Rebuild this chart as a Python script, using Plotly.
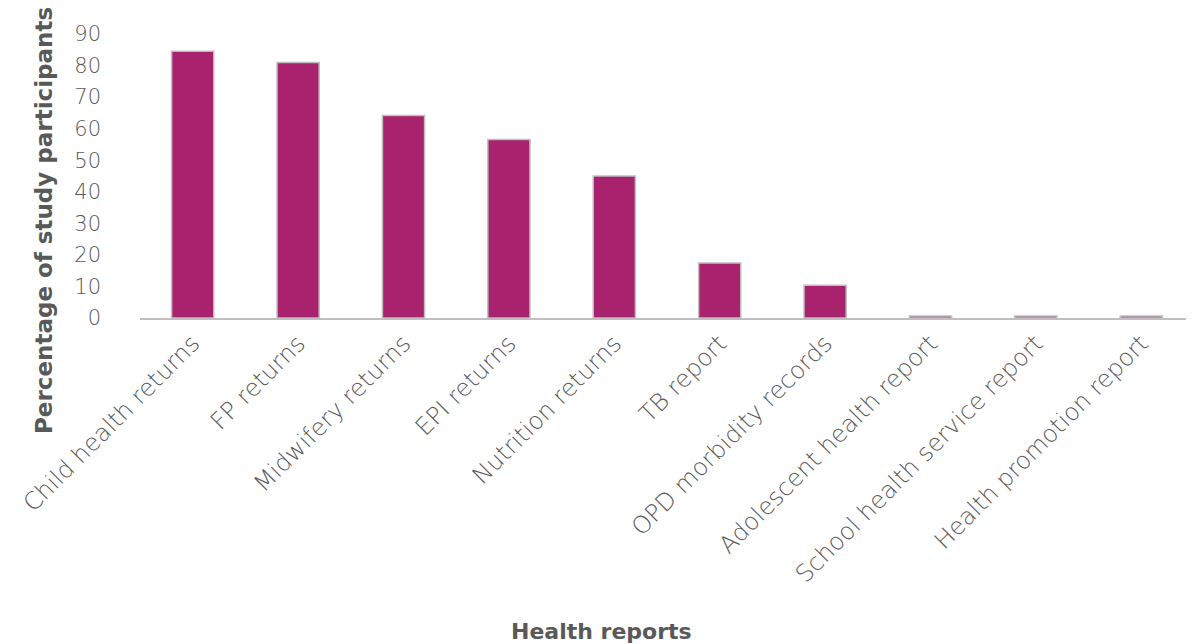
import plotly.graph_objects as go

categories = ["Child health returns", "FP returns", "Midwifery returns", "EPI returns",
              "Nutrition returns", "TB report", "OPD morbidity records",
              "Adolescent health report", "School health service report",
              "Health promotion report"]
values = [84.5, 81, 64.2, 56.6, 45, 17.4, 10.4, 0.6, 0.6, 0.6]
y_ticks = [0, 10, 20, 30, 40, 50, 60, 70, 80, 90]

FONT = "DejaVu Sans"
GREY = "#595959"

fig = go.Figure()
fig.add_trace(go.Bar(
    x=categories, y=values,
    marker=dict(color="#A8226E", line=dict(color="#BFBFBF", width=1.5)),
))

fig.update_layout(
    width=1186, height=636,
    paper_bgcolor="white", plot_bgcolor="white",
    margin=dict(l=132, r=0, t=26, b=326),
    bargap=0.6,
    showlegend=False,
    font=dict(family=FONT, color=GREY),
    xaxis=dict(
        tickangle=-45, tickfont=dict(size=24, family=FONT, color=GREY, weight=200),
        showline=True, linecolor="#BFBFBF", linewidth=1.5,
        showgrid=False, ticks="", zeroline=False,
    ),
    yaxis=dict(
        range=[0, 90], tickvals=y_ticks, showgrid=False, zeroline=False,
        showline=False, ticks="", ticklabelstandoff=38,
        tickfont=dict(size=21, family=FONT, color=GREY, weight=200),
    ),
    annotations=[
        dict(text="<b>Percentage of study participants</b>", textangle=-90,
             xref="paper", yref="paper", x=-0.0911, y=0.345, xanchor="center", yanchor="middle",
             showarrow=False, font=dict(size=23, family=FONT, color=GREY)),
        dict(text="<b>Health reports</b>", xref="paper", yref="paper",
             x=0.4374, y=-1.1056, xanchor="center", yanchor="middle",
             showarrow=False, font=dict(size=22, family=FONT, color=GREY)),
    ],
)

fig.write_html("out.html")
